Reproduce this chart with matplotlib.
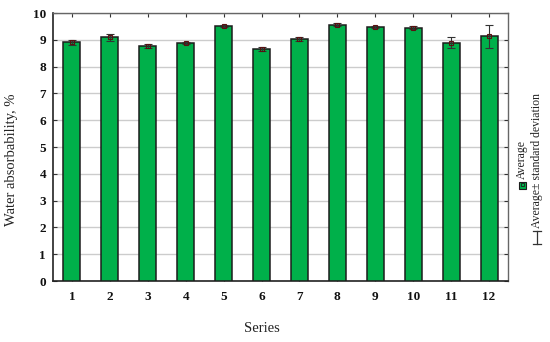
import matplotlib
matplotlib.use("Agg")
import matplotlib.pyplot as plt
from matplotlib.lines import Line2D
from matplotlib.patches import Rectangle

series = [1, 2, 3, 4, 5, 6, 7, 8, 9, 10, 11, 12]
means = [8.91, 9.09, 8.78, 8.87, 9.52, 8.66, 9.03, 9.57, 9.48, 9.45, 8.89, 9.13]
stds = [0.10, 0.12, 0.07, 0.03, 0.05, 0.07, 0.06, 0.05, 0.05, 0.05, 0.20, 0.43]
yticks = list(range(0, 11))

W, H = 550, 342
fig = plt.figure(figsize=(5.5, 3.42), dpi=100)
plt.rcParams['font.family'] = ['Liberation Serif', 'DejaVu Serif']

ax = fig.add_axes([53 / W, 1 - 281 / H, (508 - 53) / W, (281 - 13) / H])
green = '#00b04a'
ax.bar(series, means, width=0.45, color=green, edgecolor='#1c1c1c', linewidth=1.1, zorder=3)
ax.errorbar(series, means, yerr=stds, fmt='s', ms=3, mfc='none', mec='#5a1010', mew=0.8,
            ecolor='#333333', elinewidth=0.8, capsize=3, capthick=0.8, zorder=4)

ax.set_xlim(0.5, 12.5)
ax.set_ylim(0, 10)
ax.set_yticks(yticks)
ax.set_xticks(series)
ax.grid(axis='y', color='#cccccc', linewidth=1.0, zorder=0)
ax.set_axisbelow(True)
ax.tick_params(direction='in', length=3, width=0.8, labelsize=9.5, top=True, right=True,
               labeltop=False, labelright=False, colors='#333333', labelcolor='#111111')
ax.tick_params(axis='x', pad=7)
ax.tick_params(axis='y', pad=5)
for lab in ax.get_xticklabels() + ax.get_yticklabels():
    lab.set_fontweight('bold')
for s in ['left', 'bottom']:
    ax.spines[s].set_linewidth(1.2)
    ax.spines[s].set_color('#222222')
for s in ['top', 'right']:
    ax.spines[s].set_linewidth(1.0)
    ax.spines[s].set_color('#666666')

fig.text(12 / W, 1 - 160 / H, 'Water absorbability, %', rotation=90, ha='center', va='center',
         fontsize=10.5, color='#222222')
fig.text(262 / W, 1 - 328 / H, 'Series', ha='center', va='center', fontsize=10.5, color='#222222')

# Legend (rotated)
sq = 7
fig.add_artist(Rectangle(((522 - sq / 2) / W, 1 - (185 + sq / 2) / H), sq / W, sq / H,
                         transform=fig.transFigure, facecolor=green, edgecolor='#1c1c1c', linewidth=0.8))
isq = 3
fig.add_artist(Rectangle(((522 - isq / 2) / W, 1 - (185 + isq / 2) / H), isq / W, isq / H,
                         transform=fig.transFigure, facecolor='none', edgecolor='#1c1c1c', linewidth=0.6))
fig.text(522 / W, 1 - 179 / H, 'Average', rotation=90, ha='center', va='bottom', fontsize=8.5,
         color='#222222')
# I-bar symbol
x0, y1, y2 = 537, 231, 244
lw = 0.9
fig.add_artist(Line2D([x0 / W, x0 / W], [1 - y1 / H, 1 - y2 / H], transform=fig.transFigure, color='#333333', lw=lw))
fig.add_artist(Line2D([(x0 - 4) / W, (x0 + 4) / W], [1 - y1 / H, 1 - y1 / H], transform=fig.transFigure, color='#333333', lw=lw))
fig.add_artist(Line2D([(x0 - 4) / W, (x0 + 4) / W], [1 - y2 / H, 1 - y2 / H], transform=fig.transFigure, color='#333333', lw=lw))
fig.text(537 / W, 1 - 228 / H, 'Average\u00b1 standard deviation', rotation=90, ha='center', va='bottom',
         fontsize=8.5, color='#222222')

fig.savefig('out.png', dpi=100)
